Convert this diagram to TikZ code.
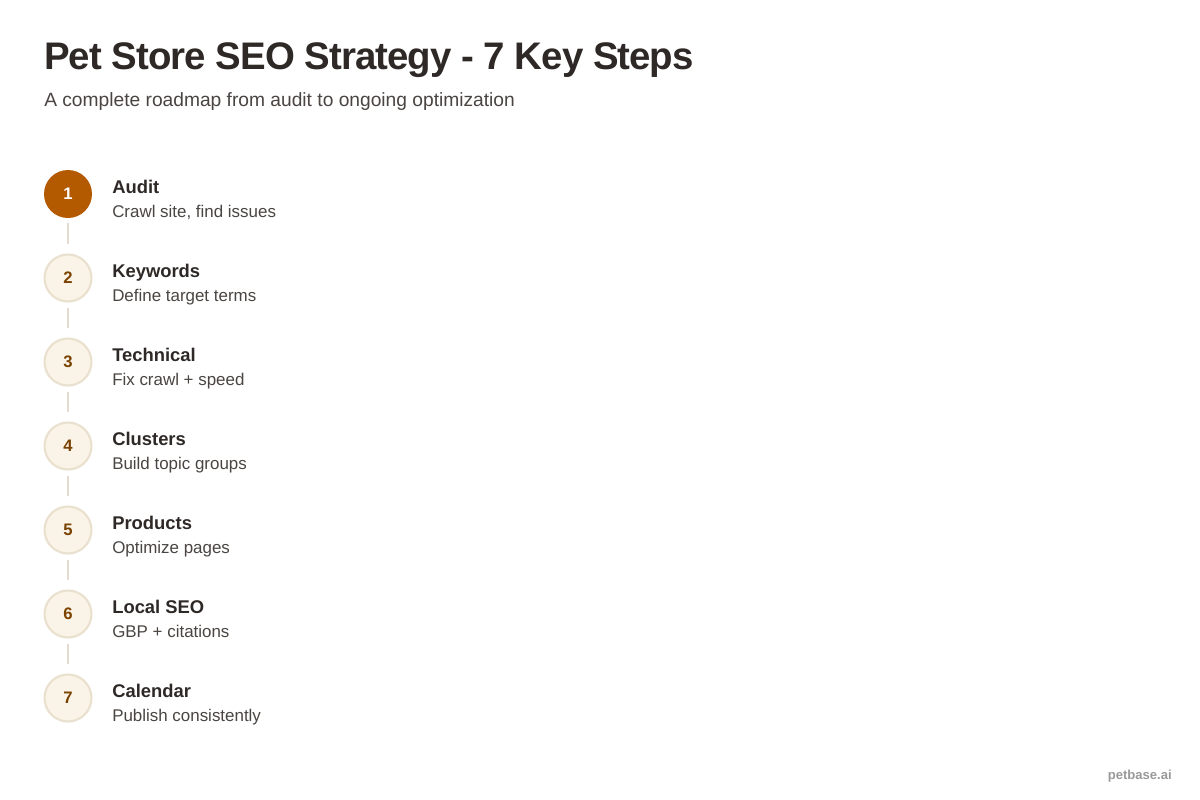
\documentclass[tikz,border=0pt]{standalone}
\usepackage{fontspec}
\setmainfont{Liberation Sans}
\newfontfamily\titlefont[LetterSpace=-2.5]{Liberation Sans}
\definecolor{ink}{HTML}{2E2926}
\definecolor{sub}{HTML}{4A4542}
\definecolor{accent}{HTML}{B35A00}
\definecolor{numc}{HTML}{7A4200}
\definecolor{softfill}{HTML}{FAF4E8}
\definecolor{softline}{HTML}{EAE0CE}
\definecolor{linkc}{HTML}{E3DBCD}
\definecolor{foot}{HTML}{9A9A9A}
\tikzset{
  stepcircle/.style={circle, minimum size=47*0.75pt, inner sep=0pt, fill=softfill, draw=softline, line width=1.6pt, text=numc, font=\bfseries\fontsize{12.5}{14}\selectfont},
  firstcircle/.style={circle, minimum size=48*0.75pt, inner sep=0pt, fill=accent, text=white, font=\bfseries\fontsize{12.5}{14}\selectfont},
  steptitle/.style={anchor=base west, inner sep=0pt, text=ink, font=\bfseries\fontsize{13.8}{16}\selectfont},
  stepdesc/.style={anchor=base west, inner sep=0pt, text=sub, font=\fontsize{12.7}{15}\selectfont},
  linkline/.style={draw=linkc, line width=1.5pt}
}
\begin{document}
\begin{tikzpicture}[x=0.75pt,y=-0.75pt]
\useasboundingbox[fill=white] (0,0) rectangle (1200,800);
\node[anchor=base west, inner sep=0pt, text=ink, font=\titlefont\bfseries\fontsize{28.8}{32}\selectfont] (title) at (44,69) {Pet Store SEO Strategy - 7 Key Steps};
\node[anchor=base west, inner sep=0pt, text=sub, font=\fontsize{14.4}{17}\selectfont] (subtitle) at (44,106) {A complete roadmap from audit to ongoing optimization};

\node[firstcircle] (c1) at (68,194) {1};
\node[stepcircle] (c2) at (68,278) {2};
\node[stepcircle] (c3) at (68,362) {3};
\node[stepcircle] (c4) at (68,446) {4};
\node[stepcircle] (c5) at (68,530) {5};
\node[stepcircle] (c6) at (68,614) {6};
\node[stepcircle] (c7) at (68,698) {7};

\foreach \a/\b in {c1/c2,c2/c3,c3/c4,c4/c5,c5/c6,c6/c7}{
  \draw[linkline] ([yshift=-5*0.75pt]\a.south) -- ([yshift=9*0.75pt]\b.north);
}

\node[steptitle] (t1) at (112,193) {Audit};
\node[stepdesc] (d1) at (112,217) {Crawl site, find issues};
\node[steptitle] (t2) at (112,277) {Keywords};
\node[stepdesc] (d2) at (112,301) {Define target terms};
\node[steptitle] (t3) at (112,361) {Technical};
\node[stepdesc] (d3) at (112,385) {Fix crawl + speed};
\node[steptitle] (t4) at (112,445) {Clusters};
\node[stepdesc] (d4) at (112,469) {Build topic groups};
\node[steptitle] (t5) at (112,529) {Products};
\node[stepdesc] (d5) at (112,553) {Optimize pages};
\node[steptitle] (t6) at (112,613) {Local SEO};
\node[stepdesc] (d6) at (112,637) {GBP + citations};
\node[steptitle] (t7) at (112,697) {Calendar};
\node[stepdesc] (d7) at (112,721) {Publish consistently};

\node[anchor=base east, inner sep=0pt, text=foot, font=\bfseries\fontsize{9.8}{12}\selectfont] (footer) at (1172,779) {petbase.ai};
\end{tikzpicture}
\end{document}
